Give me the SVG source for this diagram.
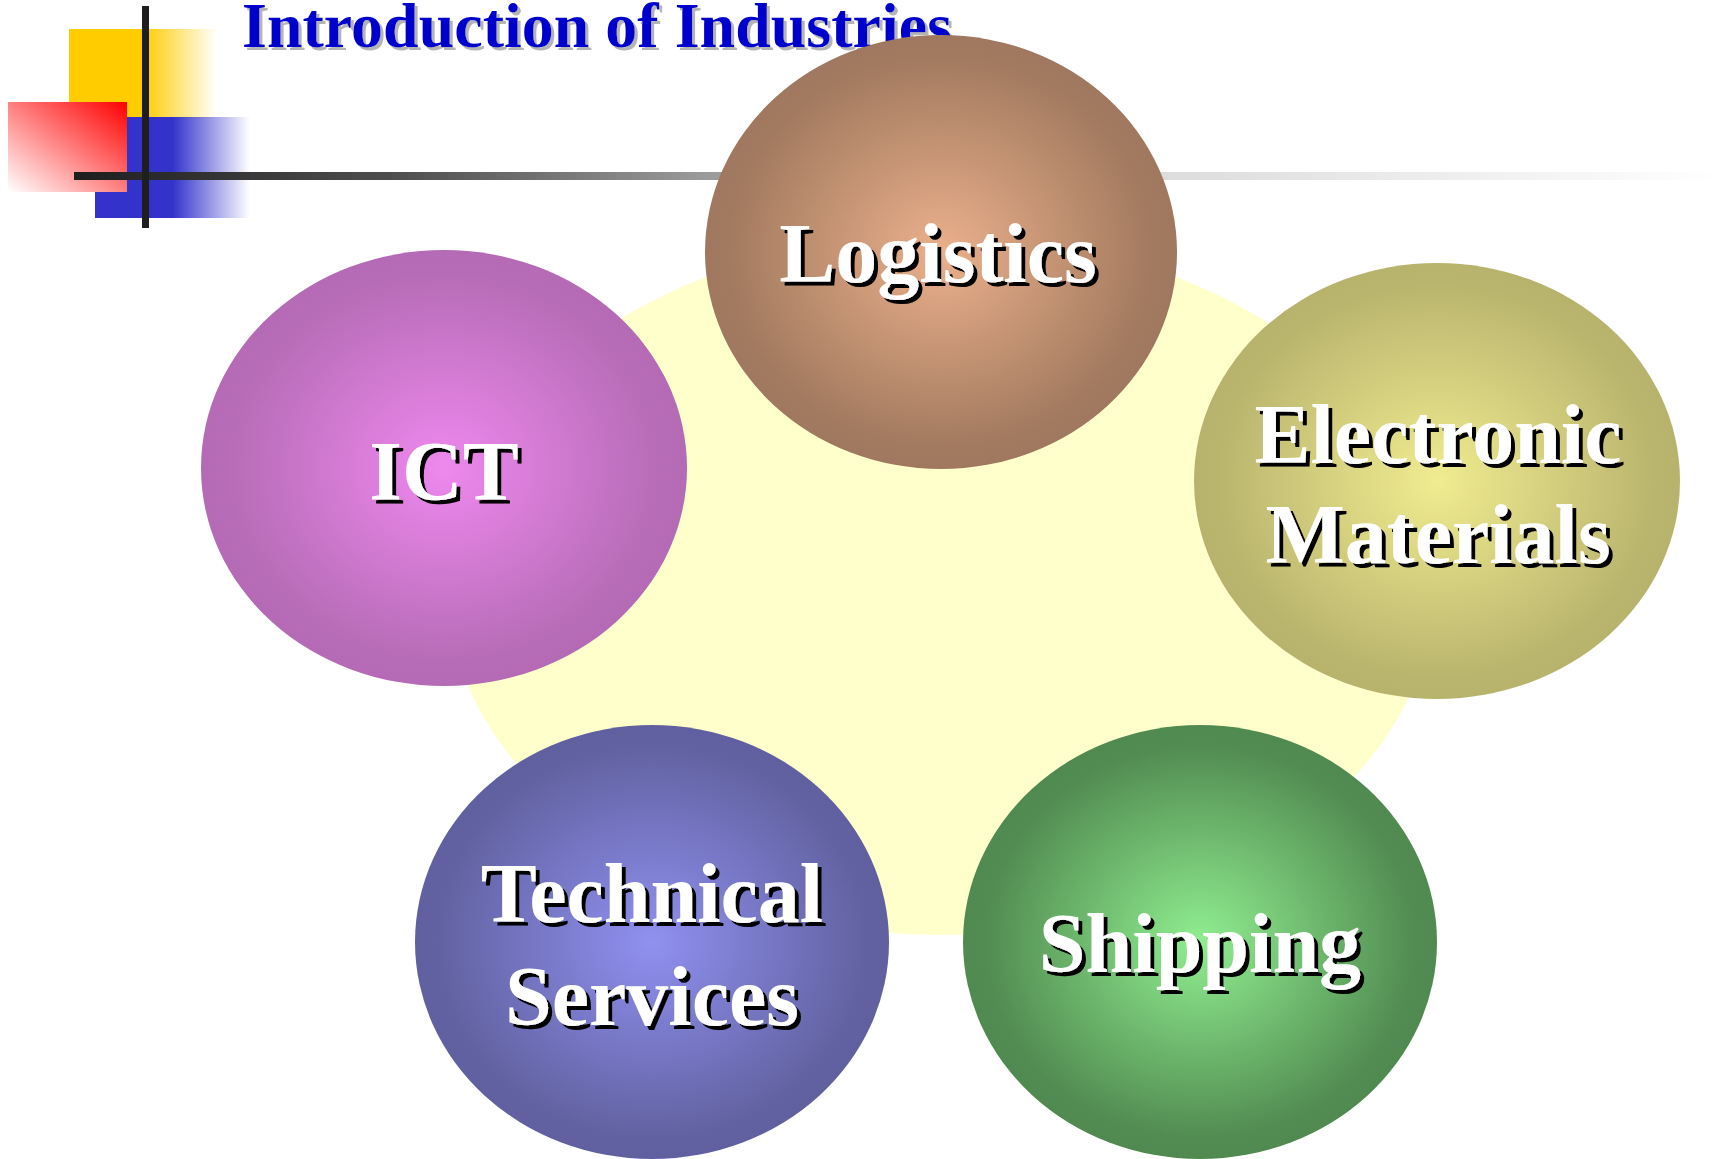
<svg xmlns="http://www.w3.org/2000/svg" width="1720" height="1159" viewBox="0 0 1720 1159">
<defs>
<linearGradient id="gYellow" x1="0" y1="0" x2="1" y2="0">
<stop offset="0" stop-color="#ffcc00"/><stop offset="0.5" stop-color="#ffcc00"/><stop offset="1" stop-color="#ffcc00" stop-opacity="0"/>
</linearGradient>
<linearGradient id="gBlue" x1="0" y1="0" x2="1" y2="0">
<stop offset="0" stop-color="#3333cc"/><stop offset="0.5" stop-color="#3333cc"/><stop offset="1" stop-color="#3333cc" stop-opacity="0"/>
</linearGradient>
<linearGradient id="gRed" x1="1" y1="0" x2="0" y2="1">
<stop offset="0" stop-color="#ff0000"/><stop offset="1" stop-color="#ffffff"/>
</linearGradient>
<linearGradient id="gLine" gradientUnits="userSpaceOnUse" x1="74" y1="0" x2="1720" y2="0">
<stop offset="0" stop-color="#1e1e1e"/><stop offset="0.2" stop-color="#505050"/><stop offset="0.38" stop-color="#999999"/><stop offset="0.66" stop-color="#dcdcdc"/><stop offset="1" stop-color="#ffffff"/>
</linearGradient>
<radialGradient id="gLog"><stop offset="0" stop-color="#ebb08c"/><stop offset="0.9" stop-color="#a27a5f"/><stop offset="1" stop-color="#a07860"/></radialGradient>
<radialGradient id="gIct"><stop offset="0" stop-color="#ee88ee"/><stop offset="0.9" stop-color="#b66cb6"/><stop offset="1" stop-color="#b46ab4"/></radialGradient>
<radialGradient id="gEle"><stop offset="0" stop-color="#f0ec90"/><stop offset="0.9" stop-color="#bab56e"/><stop offset="1" stop-color="#b8b36c"/></radialGradient>
<radialGradient id="gTec"><stop offset="0" stop-color="#9090f0"/><stop offset="0.9" stop-color="#6262a2"/><stop offset="1" stop-color="#6060a0"/></radialGradient>
<radialGradient id="gShi"><stop offset="0" stop-color="#90ee90"/><stop offset="0.9" stop-color="#528c52"/><stop offset="1" stop-color="#508a50"/></radialGradient>
<filter id="fShadowBlack" x="-10%" y="-20%" width="130%" height="150%">
<feFlood flood-color="#000000" result="c"/>
<feComposite in="c" in2="SourceAlpha" operator="in" result="s"/>
<feOffset in="s" dx="4" dy="4" result="o"/>
<feMerge><feMergeNode in="o"/><feMergeNode in="SourceGraphic"/></feMerge>
</filter>
<filter id="fShadowGrey" x="-5%" y="-20%" width="110%" height="150%">
<feFlood flood-color="#b4b4b4" result="c"/>
<feComposite in="c" in2="SourceAlpha" operator="in" result="s"/>
<feOffset in="s" dx="3" dy="3" result="o"/>
<feMerge><feMergeNode in="o"/><feMergeNode in="SourceGraphic"/></feMerge>
</filter>
<style>
.title{font-family:"Liberation Serif","Times New Roman",serif;font-weight:bold;font-size:64px;fill:#0000cc;filter:url(#fShadowGrey)}
.lbl{font-family:"Liberation Serif","Times New Roman",serif;font-weight:bold;font-size:84px;text-anchor:middle;fill:#ffffff;filter:url(#fShadowBlack)}
</style>
</defs>
<rect width="1720" height="1159" fill="#ffffff"/>
<g id="title">
<text class="title" x="242" y="47">Introduction of Industries</text>
</g>
<g id="decoration">
<rect x="69" y="29" width="148" height="89" fill="url(#gYellow)"/>
<rect x="95" y="117" width="155" height="101" fill="url(#gBlue)"/>
<rect x="8" y="102" width="119" height="90" fill="url(#gRed)"/>
<rect x="74" y="172" width="1646" height="8" fill="url(#gLine)"/>
<rect x="142" y="6" width="7" height="222" fill="#1e1e1e"/>
</g>
<g id="background">
<ellipse cx="941" cy="585" rx="494" ry="350" fill="#ffffcc"/>
</g>
<g id="connectors"></g>
<g id="node-logistics">
<ellipse cx="941" cy="252" rx="236" ry="217" fill="url(#gLog)"/>
<text class="lbl" x="938" y="282">Logistics</text>
</g>
<g id="node-ict">
<ellipse cx="444" cy="468" rx="243" ry="218" fill="url(#gIct)"/>
<text class="lbl" x="444" y="500">ICT</text>
</g>
<g id="node-electronic-materials">
<ellipse cx="1437" cy="481" rx="243" ry="218" fill="url(#gEle)"/>
<text class="lbl" x="1438" y="463">Electronic</text>
<text class="lbl" x="1438" y="563">Materials</text>
</g>
<g id="node-technical-services">
<ellipse cx="652" cy="942" rx="237" ry="217" fill="url(#gTec)"/>
<text class="lbl" x="652" y="922">Technical</text>
<text class="lbl" x="652" y="1025">Services</text>
</g>
<g id="node-shipping">
<ellipse cx="1200" cy="942" rx="237" ry="217" fill="url(#gShi)"/>
<text class="lbl" x="1200" y="972">Shipping</text>
</g>
</svg>
